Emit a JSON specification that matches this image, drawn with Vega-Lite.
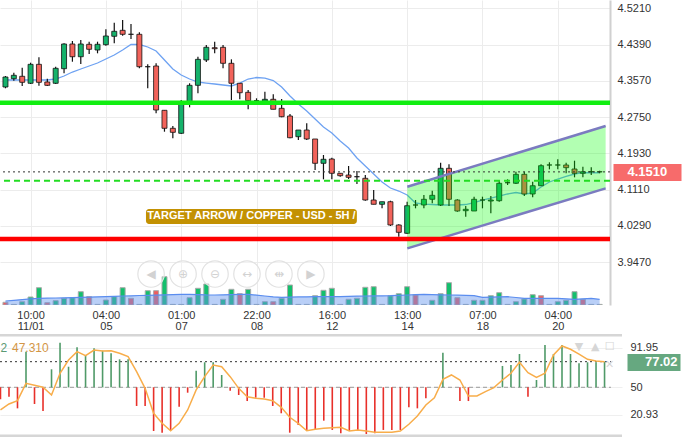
{
  "$schema": "https://vega.github.io/schema/vega-lite/v6.json",
  "padding": 0,
  "background": "white",
  "spacing": 29,
  "bounds": "flush",
  "config": {
    "font": "Liberation Sans",
    "view": {"stroke": null},
    "axis": {"labelFont": "Liberation Sans", "labelFontSize": 11, "labelColor": "#333333", "gridColor": "#ececec", "gridWidth": 1, "domain": false, "ticks": false}
  },
  "datasets": {
    "c": [
      {"i":0,"o":4.3430,"h":4.3679,"l":4.3401,"c":4.3656,"v":270,"vd":"dn","ma":4.3588,"vma":400,"osc":37.3,"sig":26.1},
      {"i":1,"o":4.3618,"h":4.3753,"l":4.3572,"c":4.3695,"v":60,"vd":"up","ma":4.3588,"vma":470,"osc":40.1,"sig":32.4},
      {"i":2,"o":4.3672,"h":4.3866,"l":4.3453,"c":4.3536,"v":330,"vd":"up","ma":4.3588,"vma":540,"osc":27.8,"sig":35.9},
      {"i":3,"o":4.3514,"h":4.3980,"l":4.3498,"c":4.3943,"v":800,"vd":"up","ma":4.3588,"vma":610,"osc":87.6,"sig":54.2},
      {"i":4,"o":4.3943,"h":4.4102,"l":4.3459,"c":4.3536,"v":1730,"vd":"up","ma":4.3588,"vma":670,"osc":32.4,"sig":52.1},
      {"i":5,"o":4.3543,"h":4.3618,"l":4.3453,"c":4.3468,"v":230,"vd":"dn","ma":4.3588,"vma":680,"osc":25,"sig":50},
      {"i":6,"o":4.3514,"h":4.3889,"l":4.3498,"c":4.3853,"v":430,"vd":"up","ma":4.3611,"vma":700,"osc":69,"sig":41.9},
      {"i":7,"o":4.3844,"h":4.4418,"l":4.3740,"c":4.4403,"v":670,"vd":"up","ma":4.3679,"vma":720,"osc":97,"sig":64.8},
      {"i":8,"o":4.4403,"h":4.4470,"l":4.4002,"c":4.4115,"v":730,"vd":"up","ma":4.3769,"vma":740,"osc":71.7,"sig":78.8},
      {"i":9,"o":4.4115,"h":4.4493,"l":4.3950,"c":4.4403,"v":1330,"vd":"up","ma":4.3837,"vma":770,"osc":92.2,"sig":87.6},
      {"i":10,"o":4.4396,"h":4.4455,"l":4.4176,"c":4.4283,"v":830,"vd":"dn","ma":4.3905,"vma":790,"osc":84,"sig":83.3},
      {"i":11,"o":4.4267,"h":4.4455,"l":4.4192,"c":4.4396,"v":60,"vd":"up","ma":4.3973,"vma":820,"osc":91.1,"sig":89.3},
      {"i":12,"o":4.4387,"h":4.4735,"l":4.4364,"c":4.4584,"v":500,"vd":"up","ma":4.4063,"vma":840,"osc":88.6,"sig":88.3},
      {"i":13,"o":4.4577,"h":4.4884,"l":4.4418,"c":4.4690,"v":830,"vd":"up","ma":4.4154,"vma":870,"osc":85.9,"sig":88.6},
      {"i":14,"o":4.4712,"h":4.4945,"l":4.4590,"c":4.4622,"v":1730,"vd":"up","ma":4.4267,"vma":900,"osc":79.5,"sig":85.9},
      {"i":15,"o":4.4622,"h":4.4855,"l":4.4516,"c":4.4622,"v":670,"vd":"dn","ma":4.4391,"vma":920,"osc":79.5,"sig":82.3},
      {"i":16,"o":4.4622,"h":4.4667,"l":4.3853,"c":4.3889,"v":60,"vd":"up","ma":4.4391,"vma":950,"osc":30.3,"sig":66.5},
      {"i":17,"o":4.3889,"h":4.3943,"l":4.3401,"c":4.3889,"v":1430,"vd":"up","ma":4.4335,"vma":970,"osc":30.3,"sig":48.9},
      {"i":18,"o":4.3905,"h":4.3966,"l":4.2835,"c":4.2910,"v":1430,"vd":"dn","ma":4.4244,"vma":990,"osc":3.9,"sig":22.6},
      {"i":19,"o":4.2903,"h":4.2903,"l":4.2419,"c":4.2496,"v":2830,"vd":"up","ma":4.4041,"vma":1010,"osc":2.1,"sig":12},
      {"i":20,"o":4.2496,"h":4.2548,"l":4.2270,"c":4.2405,"v":60,"vd":"up","ma":4.3837,"vma":1040,"osc":5,"sig":4.2},
      {"i":21,"o":4.2383,"h":4.3136,"l":4.2367,"c":4.3097,"v":60,"vd":"up","ma":4.3701,"vma":1070,"osc":29.5,"sig":12},
      {"i":22,"o":4.3075,"h":4.3514,"l":4.2971,"c":4.3468,"v":730,"vd":"up","ma":4.3611,"vma":1060,"osc":44.3,"sig":26.1},
      {"i":23,"o":4.3468,"h":4.4115,"l":4.3287,"c":4.4056,"v":1670,"vd":"up","ma":4.3543,"vma":1040,"osc":67.5,"sig":47.2},
      {"i":24,"o":4.4041,"h":4.4380,"l":4.3995,"c":4.4328,"v":2100,"vd":"up","ma":4.3520,"vma":1010,"osc":76.4,"sig":61.2},
      {"i":25,"o":4.4319,"h":4.4455,"l":4.4192,"c":4.4296,"v":60,"vd":"up","ma":4.3498,"vma":1000,"osc":76.4,"sig":73.5},
      {"i":26,"o":4.4328,"h":4.4380,"l":4.3853,"c":4.3966,"v":570,"vd":"up","ma":4.3475,"vma":1020,"osc":63,"sig":71.7},
      {"i":27,"o":4.3966,"h":4.4056,"l":4.3136,"c":4.3514,"v":1570,"vd":"up","ma":4.3453,"vma":1040,"osc":46.4,"sig":61.2},
      {"i":28,"o":4.3514,"h":4.3514,"l":4.3152,"c":4.3301,"v":1130,"vd":"dn","ma":4.3520,"vma":1060,"osc":41.9,"sig":48.9},
      {"i":29,"o":4.3310,"h":4.3362,"l":4.2926,"c":4.3120,"v":1570,"vd":"up","ma":4.3611,"vma":1070,"osc":35.5,"sig":40.1},
      {"i":30,"o":4.3120,"h":4.3174,"l":4.3075,"c":4.3120,"v":60,"vd":"up","ma":4.3645,"vma":990,"osc":39,"sig":38.4},
      {"i":31,"o":4.3113,"h":4.3324,"l":4.3097,"c":4.3152,"v":330,"vd":"up","ma":4.3633,"vma":900,"osc":39,"sig":37.7},
      {"i":32,"o":4.3152,"h":4.3265,"l":4.2926,"c":4.2926,"v":330,"vd":"dn","ma":4.3577,"vma":820,"osc":30.3,"sig":35.9},
      {"i":33,"o":4.2948,"h":4.3159,"l":4.2745,"c":4.2758,"v":670,"vd":"up","ma":4.3430,"vma":770,"osc":22.6,"sig":28.9},
      {"i":34,"o":4.2774,"h":4.2819,"l":4.2270,"c":4.2283,"v":2000,"vd":"up","ma":4.3226,"vma":790,"osc":2.1,"sig":18.4},
      {"i":35,"o":4.2306,"h":4.2457,"l":4.2231,"c":4.2457,"v":60,"vd":"up","ma":4.3045,"vma":810,"osc":10.2,"sig":12},
      {"i":36,"o":4.2457,"h":4.2609,"l":4.2231,"c":4.2254,"v":60,"vd":"up","ma":4.2887,"vma":820,"osc":5,"sig":4.2},
      {"i":37,"o":4.2254,"h":4.2254,"l":4.1553,"c":4.1704,"v":930,"vd":"up","ma":4.2706,"vma":830,"osc":5,"sig":5.7},
      {"i":38,"o":4.1704,"h":4.1892,"l":4.1342,"c":4.1795,"v":1470,"vd":"up","ma":4.2525,"vma":830,"osc":14.8,"sig":6.8},
      {"i":39,"o":4.1801,"h":4.1831,"l":4.1342,"c":4.1478,"v":1670,"vd":"up","ma":4.2390,"vma":830,"osc":5,"sig":7.4},
      {"i":40,"o":4.1478,"h":4.1478,"l":4.1401,"c":4.1424,"v":60,"vd":"up","ma":4.2209,"vma":830,"osc":1.5,"sig":7.8},
      {"i":41,"o":4.1439,"h":4.1643,"l":4.1349,"c":4.1387,"v":570,"vd":"up","ma":4.2050,"vma":860,"osc":3.9,"sig":3.9},
      {"i":42,"o":4.1401,"h":4.1530,"l":4.1236,"c":4.1401,"v":670,"vd":"up","ma":4.1824,"vma":890,"osc":5,"sig":5},
      {"i":43,"o":4.1365,"h":4.1439,"l":4.0858,"c":4.0874,"v":1770,"vd":"up","ma":4.1643,"vma":900,"osc":0.7,"sig":3.9},
      {"i":44,"o":4.0874,"h":4.1100,"l":4.0777,"c":4.0777,"v":1830,"vd":"up","ma":4.1462,"vma":910,"osc":1.5,"sig":2.5},
      {"i":45,"o":4.0777,"h":4.0835,"l":4.0686,"c":4.0835,"v":60,"vd":"up","ma":4.1281,"vma":920,"osc":5,"sig":2.5},
      {"i":46,"o":4.0835,"h":4.0858,"l":4.0286,"c":4.0309,"v":930,"vd":"up","ma":4.1145,"vma":930,"osc":5,"sig":2.5},
      {"i":47,"o":4.0309,"h":4.0324,"l":4.0044,"c":4.0143,"v":1130,"vd":"up","ma":4.1077,"vma":960,"osc":5,"sig":3.9},
      {"i":48,"o":4.0121,"h":4.0835,"l":4.0105,"c":4.0745,"v":1830,"vd":"up","ma":4.0987,"vma":1000,"osc":28.9,"sig":11},
      {"i":49,"o":4.0761,"h":4.0874,"l":4.0686,"c":4.0761,"v":1000,"vd":"dn","ma":4.0806,"vma":1030,"osc":27.8,"sig":19.7},
      {"i":50,"o":4.0761,"h":4.0987,"l":4.0686,"c":4.0890,"v":60,"vd":"up","ma":4.0783,"vma":1060,"osc":38.4,"sig":31.3},
      {"i":51,"o":4.0890,"h":4.1084,"l":4.0799,"c":4.0980,"v":470,"vd":"up","ma":4.0772,"vma":1040,"osc":50,"sig":39},
      {"i":52,"o":4.0761,"h":4.1718,"l":4.0738,"c":4.1591,"v":1130,"vd":"up","ma":4.0761,"vma":1020,"osc":86.5,"sig":58.4},
      {"i":53,"o":4.1591,"h":4.1681,"l":4.0738,"c":4.0890,"v":2230,"vd":"up","ma":4.0761,"vma":1000,"osc":50,"sig":63},
      {"i":54,"o":4.0874,"h":4.0890,"l":4.0609,"c":4.0625,"v":730,"vd":"dn","ma":4.0761,"vma":980,"osc":35.5,"sig":57.7},
      {"i":55,"o":4.0632,"h":4.0738,"l":4.0496,"c":4.0664,"v":60,"vd":"up","ma":4.0772,"vma":960,"osc":35.5,"sig":40.8},
      {"i":56,"o":4.0625,"h":4.0949,"l":4.0625,"c":4.0890,"v":470,"vd":"up","ma":4.0817,"vma":930,"osc":50,"sig":40.8},
      {"i":57,"o":4.0874,"h":4.0949,"l":4.0686,"c":4.0874,"v":470,"vd":"up","ma":4.0874,"vma":770,"osc":50,"sig":45.4},
      {"i":58,"o":4.0851,"h":4.0964,"l":4.0573,"c":4.0874,"v":930,"vd":"up","ma":4.0919,"vma":790,"osc":50,"sig":49.6},
      {"i":59,"o":4.0858,"h":4.1326,"l":4.0835,"c":4.1252,"v":1230,"vd":"up","ma":4.0964,"vma":810,"osc":72.5,"sig":57.7},
      {"i":60,"o":4.1265,"h":4.1342,"l":4.1213,"c":4.1265,"v":60,"vd":"up","ma":4.1010,"vma":830,"osc":73.5,"sig":64.8},
      {"i":61,"o":4.1252,"h":4.1514,"l":4.1236,"c":4.1455,"v":330,"vd":"up","ma":4.1044,"vma":750,"osc":85.1,"sig":76.4},
      {"i":62,"o":4.1455,"h":4.1514,"l":4.0964,"c":4.1010,"v":600,"vd":"up","ma":4.1010,"vma":670,"osc":40.1,"sig":65.4},
      {"i":63,"o":4.1010,"h":4.1288,"l":4.0935,"c":4.1197,"v":1030,"vd":"up","ma":4.1032,"vma":670,"osc":57.7,"sig":60.5},
      {"i":64,"o":4.1197,"h":4.1681,"l":4.1191,"c":4.1650,"v":930,"vd":"dn","ma":4.1168,"vma":670,"osc":94.6,"sig":64.8},
      {"i":65,"o":4.1666,"h":4.1727,"l":4.1568,"c":4.1666,"v":60,"vd":"up","ma":4.1281,"vma":670,"osc":85.1,"sig":84.1},
      {"i":66,"o":4.1666,"h":4.1795,"l":4.1568,"c":4.1666,"v":330,"vd":"up","ma":4.1349,"vma":670,"osc":94.6,"sig":93.6},
      {"i":67,"o":4.1666,"h":4.1718,"l":4.1478,"c":4.1605,"v":470,"vd":"up","ma":4.1406,"vma":620,"osc":85.1,"sig":90.1},
      {"i":68,"o":4.1575,"h":4.1763,"l":4.1387,"c":4.1478,"v":1330,"vd":"up","ma":4.1462,"vma":570,"osc":75.3,"sig":85.1},
      {"i":69,"o":4.1478,"h":4.1627,"l":4.1387,"c":4.1514,"v":570,"vd":"dn","ma":4.1491,"vma":620,"osc":76.4,"sig":79.5},
      {"i":70,"o":4.1514,"h":4.1614,"l":4.1439,"c":4.1514,"v":60,"vd":"up","ma":4.1491,"vma":670,"osc":76.4,"sig":77.7},
      {"i":71,"o":4.1514,"h":4.1537,"l":4.1478,"c":4.1510,"v":60,"vd":"up","ma":4.1491,"vma":570,"osc":77.02,"sig":77}
    ],
    "ch": [
      {"i":48.02,"up":4.1175,"lo":3.9781},
      {"i":71.72,"up":4.2548,"lo":4.1138}
    ],
    "btn": [
      {"i":17.40,"g":"◀"},
      {"i":21.22,"g":"⊕"},
      {"i":25.04,"g":"⊖"},
      {"i":28.86,"g":"↔"},
      {"i":32.68,"g":"⇹"},
      {"i":36.50,"g":"▶"}
    ],
    "ico": [
      {"i":68.0,"v":92.8,"g":"▼"},
      {"i":69.9,"v":92.8,"g":"▲"},
      {"i":71.6,"v":92.8,"g":"☐"},
      {"i":71.6,"v":73.5,"g":"✕"}
    ]
  },
  "vconcat": [
    {
      "width": 610,
      "height": 305,
      "view": {"stroke": null},
      "layer": [
        {
          "data": {"name": "c"},
          "mark": {"type": "bar", "size": 5, "stroke": "#aaaaaa", "strokeWidth": 1, "clip": true},
          "encoding": {
            "x": {"field": "i", "type": "quantitative", "scale": {"domain": [-0.056, 71.642], "nice": false, "zero": false},
              "axis": {"orient": "bottom", "values": [3, 12, 21, 30, 39, 48, 57, 66], "grid": true, "gridColor": "#ececec", "domain": false, "ticks": false, "labelBaseline": "top", "labelPadding": 4, "labelFontSize": 11, "labelColor": "#333333", "labelFlush": false, "labelOverlap": false, "title": null,
                "labelExpr": "datum.value == 3 ? '10:00' : datum.value == 12 ? '04:00' : datum.value == 21 ? '01:00' : datum.value == 30 ? '22:00' : datum.value == 39 ? '16:00' : datum.value == 48 ? '13:00' : datum.value == 57 ? '07:00' : '04:00'"}},
            "y": {"field": "v", "type": "quantitative", "scale": {"domain": [0, 30500], "nice": false}, "axis": null},
            "color": {"condition": {"test": "datum.vd == 'dn'", "value": "#ee5d5d"}, "value": "#14bf6d"}
          }
        },
        {
          "data": {"name": "c"},
          "mark": {"type": "area", "fill": "#6495ed", "fillOpacity": 0.45, "line": {"stroke": "#5b8def", "strokeWidth": 1.2}, "clip": true},
          "encoding": {
            "x": {"field": "i", "type": "quantitative", "scale": {"domain": [-0.056, 71.642], "nice": false, "zero": false},
              "axis": {"orient": "bottom", "values": [3, 12, 21, 30, 39, 48, 57, 66], "grid": false, "domain": false, "ticks": false, "labelBaseline": "top", "labelPadding": 15, "labelFontSize": 11, "labelColor": "#333333", "labelFlush": false, "labelOverlap": false, "title": null,
                "labelExpr": "datum.value == 3 ? '11/01' : datum.value == 12 ? '05' : datum.value == 21 ? '07' : datum.value == 30 ? '08' : datum.value == 39 ? '12' : datum.value == 48 ? '14' : datum.value == 57 ? '18' : '20'"}},
            "y": {"field": "vma", "type": "quantitative", "scale": {"domain": [0, 30500], "nice": false}, "axis": null}
          }
        },
        {
          "data": {"name": "c"},
          "mark": {"type": "line", "color": "#6ea2f2", "strokeWidth": 1.3, "clip": true},
          "encoding": {
            "x": {"field": "i", "type": "quantitative", "scale": {"domain": [-0.056, 71.642], "nice": false, "zero": false}, "axis": null},
            "y": {"field": "ma", "type": "quantitative", "scale": {"domain": [3.8499, 4.5398], "nice": false, "zero": false},
              "axis": {"orient": "right", "values": [4.521, 4.439, 4.357, 4.275, 4.193, 4.111, 4.029, 3.947], "format": ".4f", "grid": true, "gridColor": "#ececec", "domain": true, "domainColor": "#d0d0d0", "domainWidth": 2, "labelPadding": 7, "ticks": false, "title": null}}
          }
        },
        {
          "data": {"name": "c"},
          "mark": {"type": "rule", "color": "#111111", "strokeWidth": 1.2, "clip": true},
          "encoding": {
            "x": {"field": "i", "type": "quantitative", "scale": {"domain": [-0.056, 71.642], "nice": false, "zero": false}, "axis": null},
            "y": {"field": "l", "type": "quantitative", "scale": {"domain": [3.8499, 4.5398], "nice": false, "zero": false}, "axis": null},
            "y2": {"field": "h"}
          }
        },
        {
          "data": {"name": "c"},
          "mark": {"type": "bar", "size": 5, "stroke": "#111111", "strokeWidth": 0.8, "clip": true},
          "encoding": {
            "x": {"field": "i", "type": "quantitative", "scale": {"domain": [-0.056, 71.642], "nice": false, "zero": false}, "axis": null},
            "y": {"field": "o", "type": "quantitative", "scale": {"domain": [3.8499, 4.5398], "nice": false, "zero": false}, "axis": null},
            "y2": {"field": "c"},
            "color": {"condition": {"test": "datum.c >= datum.o", "value": "#15b26b"}, "value": "#f2635b"}
          }
        },
        {
          "data": {"name": "ch"},
          "mark": {"type": "area", "fill": "#00ff00", "fillOpacity": 0.3, "clip": true},
          "encoding": {
            "x": {"field": "i", "type": "quantitative", "scale": {"domain": [-0.056, 71.642], "nice": false, "zero": false}, "axis": null},
            "y": {"field": "up", "type": "quantitative", "scale": {"domain": [3.8499, 4.5398], "nice": false, "zero": false}, "axis": null},
            "y2": {"field": "lo"}
          }
        },
        {
          "data": {"name": "ch"},
          "mark": {"type": "line", "color": "#7b7bc0", "strokeWidth": 2.5, "clip": true},
          "encoding": {
            "x": {"field": "i", "type": "quantitative", "scale": {"domain": [-0.056, 71.642], "nice": false, "zero": false}, "axis": null},
            "y": {"field": "up", "type": "quantitative", "scale": {"domain": [3.8499, 4.5398], "nice": false, "zero": false}, "axis": null}
          }
        },
        {
          "data": {"name": "ch"},
          "mark": {"type": "line", "color": "#7b7bc0", "strokeWidth": 2.5, "clip": true},
          "encoding": {
            "x": {"field": "i", "type": "quantitative", "scale": {"domain": [-0.056, 71.642], "nice": false, "zero": false}, "axis": null},
            "y": {"field": "lo", "type": "quantitative", "scale": {"domain": [3.8499, 4.5398], "nice": false, "zero": false}, "axis": null}
          }
        },
        {
          "data": {"values": [{}]},
          "mark": {"type": "rule", "color": "#11ee11", "strokeWidth": 4.5, "clip": true},
          "encoding": {
            "y": {"datum": 4.3075, "type": "quantitative", "scale": {"domain": [3.8499, 4.5398], "nice": false, "zero": false}, "axis": null}
          }
        },
        {
          "data": {"values": [{}]},
          "mark": {"type": "rule", "color": "#ff0000", "strokeWidth": 4.5, "clip": true},
          "encoding": {
            "y": {"datum": 3.9992, "type": "quantitative", "scale": {"domain": [3.8499, 4.5398], "nice": false, "zero": false}, "axis": null}
          }
        },
        {
          "data": {"values": [{}]},
          "mark": {"type": "rule", "color": "#22dd22", "strokeWidth": 2, "strokeDash": [6, 4], "clip": true},
          "encoding": {
            "y": {"datum": 4.131, "type": "quantitative", "scale": {"domain": [3.8499, 4.5398], "nice": false, "zero": false}, "axis": null}
          }
        },
        {
          "data": {"values": [{}]},
          "mark": {"type": "rule", "color": "#333333", "strokeWidth": 1, "strokeDash": [2, 3], "clip": true},
          "encoding": {
            "y": {"datum": 4.151, "type": "quantitative", "scale": {"domain": [3.8499, 4.5398], "nice": false, "zero": false},
              "axis": {"orient": "right", "values": [4.151], "format": ".4f", "offset": 3, "domain": false, "grid": false, "ticks": true, "tickSize": 68, "tickWidth": 17, "tickColor": "#f76b6b", "labelColor": "#ffffff", "labelFontWeight": "bold", "labelFontSize": 13, "labelPadding": -54, "labelAlign": "left", "title": null}}
          }
        },
        {
          "data": {"values": [{}]},
          "mark": {"type": "rect", "color": "#c39102", "cornerRadius": 3},
          "encoding": {
            "x": {"datum": 16.79, "type": "quantitative", "scale": {"domain": [-0.056, 71.642], "nice": false, "zero": false}, "axis": null},
            "x2": {"datum": 41.99},
            "y": {"datum": 4.0670, "type": "quantitative", "scale": {"domain": [3.8499, 4.5398], "nice": false, "zero": false}, "axis": null},
            "y2": {"datum": 4.0332}
          }
        },
        {
          "data": {"values": [{}]},
          "mark": {"type": "text", "color": "#ffffff", "fontWeight": "bold", "fontSize": 11, "align": "center", "baseline": "middle"},
          "encoding": {
            "x": {"datum": 29.39, "type": "quantitative", "scale": {"domain": [-0.056, 71.642], "nice": false, "zero": false}, "axis": null},
            "y": {"datum": 4.0501, "type": "quantitative", "scale": {"domain": [3.8499, 4.5398], "nice": false, "zero": false}, "axis": null},
            "text": {"value": "TARGET ARROW / COPPER - USD - 5H /"}
          }
        },
        {
          "data": {"name": "btn"},
          "mark": {"type": "point", "shape": "circle", "size": 700, "filled": true, "fill": "#ffffff", "fillOpacity": 0.35, "stroke": "#e2e2e2", "strokeWidth": 1.2},
          "encoding": {
            "x": {"field": "i", "type": "quantitative", "scale": {"domain": [-0.056, 71.642], "nice": false, "zero": false}, "axis": null},
            "y": {"datum": 3.92, "type": "quantitative", "scale": {"domain": [3.8499, 4.5398], "nice": false, "zero": false}, "axis": null}
          }
        },
        {
          "data": {"name": "btn"},
          "mark": {"type": "text", "color": "#d2d2d2", "fontSize": 12, "align": "center", "baseline": "middle", "font": "DejaVu Sans"},
          "encoding": {
            "x": {"field": "i", "type": "quantitative", "scale": {"domain": [-0.056, 71.642], "nice": false, "zero": false}, "axis": null},
            "y": {"datum": 3.92, "type": "quantitative", "scale": {"domain": [3.8499, 4.5398], "nice": false, "zero": false}, "axis": null},
            "text": {"field": "g"}
          }
        }
      ],
      "resolve": {"scale": {"y": "independent"}, "axis": {"x": "independent", "y": "independent"}}
    },
    {
      "width": 622,
      "height": 103,
      "view": {"stroke": null},
      "layer": [
        {
          "data": {"values": [{}]},
          "mark": {"type": "rule", "color": "#9a9a9a", "strokeWidth": 1, "strokeDash": [4, 3], "clip": true},
          "encoding": {
            "x": {"datum": -0.056, "type": "quantitative", "scale": {"domain": [-0.056, 73.052], "nice": false, "zero": false}, "axis": null},
            "x2": {"datum": 71.75},
            "y": {"datum": 50, "type": "quantitative", "scale": {"domain": [-2.43, 106.22], "nice": false, "zero": false},
              "axis": {"orient": "right", "values": [91.95, 50, 20.93], "grid": true, "gridColor": "#efefef", "labelPadding": 8, "ticks": false, "domain": false, "title": null,
                "labelExpr": "datum.value == 50 ? '50' : format(datum.value, '.2f')"}}
          }
        },
        {
          "data": {"values": [{}]},
          "mark": {"type": "rule", "color": "#333333", "strokeWidth": 1, "strokeDash": [2, 3], "clip": true},
          "encoding": {
            "x": {"datum": -0.056, "type": "quantitative", "scale": {"domain": [-0.056, 73.052], "nice": false, "zero": false}, "axis": null},
            "x2": {"datum": 71.75},
            "y": {"datum": 77.02, "type": "quantitative", "scale": {"domain": [-2.43, 106.22], "nice": false, "zero": false},
              "axis": {"orient": "right", "values": [77.02], "format": ".2f", "offset": 5, "domain": false, "grid": false, "ticks": true, "tickSize": 53, "tickWidth": 17, "tickColor": "#66a880", "labelColor": "#ffffff", "labelFontWeight": "bold", "labelFontSize": 13, "labelPadding": -3, "labelAlign": "right", "title": null}}
          }
        },
        {
          "data": {"name": "c"},
          "mark": {"type": "rule", "strokeWidth": 1.6, "clip": true},
          "encoding": {
            "x": {"field": "i", "type": "quantitative", "scale": {"domain": [-0.056, 73.052], "nice": false, "zero": false},
              "axis": {"values": [3, 12, 21, 30, 39, 48, 57, 66], "grid": true, "gridColor": "#ececec", "labels": false, "ticks": false, "domain": false, "title": null}},
            "y": {"field": "osc", "type": "quantitative", "scale": {"domain": [-2.43, 106.22], "nice": false, "zero": false}, "axis": null},
            "y2": {"datum": 50},
            "color": {"condition": {"test": "datum.osc >= 50", "value": "#4f9a68"}, "value": "#e8302a"}
          }
        },
        {
          "data": {"name": "c"},
          "mark": {"type": "line", "color": "#f8ad4a", "strokeWidth": 1.5, "clip": true},
          "encoding": {
            "x": {"field": "i", "type": "quantitative", "scale": {"domain": [-0.056, 73.052], "nice": false, "zero": false}, "axis": null},
            "y": {"field": "sig", "type": "quantitative", "scale": {"domain": [-2.43, 106.22], "nice": false, "zero": false}, "axis": null}
          }
        },
        {
          "data": {"values": [{}]},
          "mark": {"type": "rule", "color": "#d6d6d6", "strokeWidth": 5, "clip": true},
          "encoding": {
            "y": {"datum": 106.22, "type": "quantitative", "scale": {"domain": [-2.43, 106.22], "nice": false, "zero": false}, "axis": null}
          }
        },
        {
          "data": {"values": [{}]},
          "mark": {"type": "rule", "color": "#d6d6d6", "strokeWidth": 5, "clip": true},
          "encoding": {
            "y": {"datum": -2.43, "type": "quantitative", "scale": {"domain": [-2.43, 106.22], "nice": false, "zero": false}, "axis": null}
          }
        },
        {
          "data": {"values": [{}]},
          "mark": {"type": "text", "color": "#5b9a73", "fontSize": 12, "align": "left", "baseline": "middle"},
          "encoding": {
            "x": {"datum": 0.0, "type": "quantitative", "scale": {"domain": [-0.056, 73.052], "nice": false, "zero": false}, "axis": null},
            "y": {"datum": 91.1, "type": "quantitative", "scale": {"domain": [-2.43, 106.22], "nice": false, "zero": false}, "axis": null},
            "text": {"value": "2"}
          }
        },
        {
          "data": {"values": [{}]},
          "mark": {"type": "text", "color": "#d39646", "fontSize": 12, "align": "left", "baseline": "middle"},
          "encoding": {
            "x": {"datum": 1.35, "type": "quantitative", "scale": {"domain": [-0.056, 73.052], "nice": false, "zero": false}, "axis": null},
            "y": {"datum": 91.1, "type": "quantitative", "scale": {"domain": [-2.43, 106.22], "nice": false, "zero": false}, "axis": null},
            "text": {"value": "47.310"}
          }
        },
        {
          "data": {"name": "ico"},
          "mark": {"type": "text", "color": "#d6d6d6", "fontSize": 11, "align": "center", "baseline": "middle", "font": "DejaVu Sans"},
          "encoding": {
            "x": {"field": "i", "type": "quantitative", "scale": {"domain": [-0.056, 73.052], "nice": false, "zero": false}, "axis": null},
            "y": {"field": "v", "type": "quantitative", "scale": {"domain": [-2.43, 106.22], "nice": false, "zero": false}, "axis": null},
            "text": {"field": "g"}
          }
        }
      ],
      "resolve": {"axis": {"y": "independent"}}
    }
  ]
}
